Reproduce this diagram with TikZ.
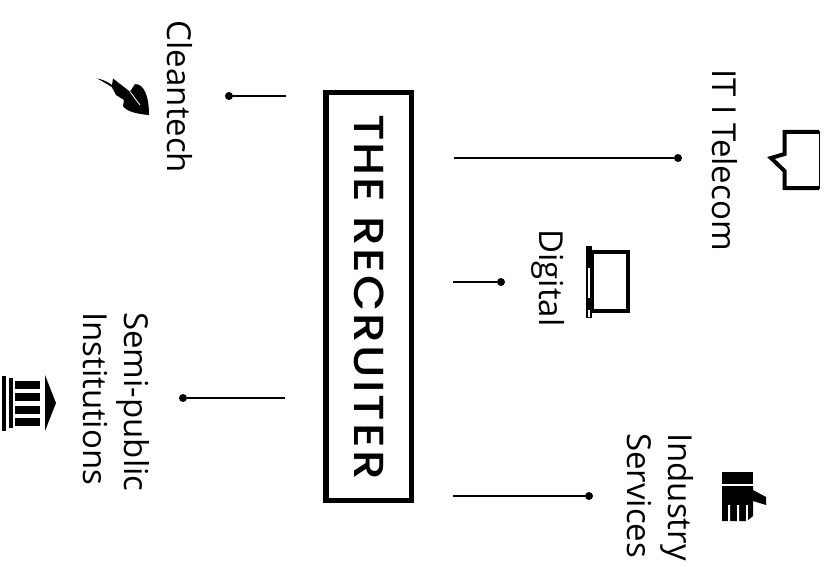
\documentclass[tikz,border=0pt]{standalone}
\usepackage{fontspec}
\setmainfont{Open Sans}
\newfontfamily\titlefont[UprightFont=* Medium,LetterSpace=5,FakeStretch=1.12]{Poppins}
\tikzset{
  lbl/.style={rotate=-90,inner sep=0pt,font=\fontsize{33}{41}\selectfont},
  lblw/.style={lbl,align=left,anchor=west},
  title/.style={rotate=-90,inner sep=0pt,font=\fontsize{42}{42}\titlefont},
  dot/.style={circle,fill=black,inner sep=0pt,minimum size=8pt},
  conn/.style={draw=black,line width=1.6pt},
  frame/.style={draw=black,line width=5.5pt,fill=white,minimum width=85.5pt,minimum height=407.5pt,inner sep=0pt}
}
\begin{document}
\begin{tikzpicture}[x=1pt,y=-1pt]
\useasboundingbox (0,0) rectangle (832,567);
% frame
\node[frame] (box) at (368.5,296.5) {};
\node[title] (rec) at (369,297) {THE RECRUITER};
% labels
\node[lbl] (clean) at (180,97) {Cleantech};
\node[lbl] (it) at (725,160) {IT I Telecom};
\node[lbl] (dig) at (548,278) {Digital};
\node[lblw] (semi) at (116,312) {Semi-public\\Institutions};
\node[lblw] (ind) at (660,433) {Industry\\Services};
% connectors
\node[dot] (d1) at (229,96) {};
\node[dot] (d2) at (678,158) {};
\node[dot] (d3) at (501,282) {};
\node[dot] (d4) at (183,398) {};
\node[dot] (d5) at (589,496) {};
\coordinate (e1) at (286,96);
\coordinate (e2) at (454,158);
\coordinate (e3) at (453,282);
\coordinate (e4) at (285,398);
\coordinate (e5) at (453,496);
\draw[conn] (d1) -- (e1);
\draw[conn] (d2) -- (e2);
\draw[conn] (d3) -- (e3);
\draw[conn] (d4) -- (e4);
\draw[conn] (d5) -- (e5);
% leaf icon
\fill (96.7,78.3) .. controls (103,79.5) and (108,82) .. (112,85)
  -- (113,78.5) -- (130,91.7) -- (135,84)
  .. controls (144,84) and (149,96) .. (149,115)
  .. controls (136,114) and (126,111) .. (123,106)
  -- (124,100) -- (116,95) -- (111.7,87)
  .. controls (107,84) and (102,81) .. (96.7,78.3) -- cycle;
\draw[white,line width=.8pt] (130,91.7) -- (140,105);
% speech bubble icon
\draw[line width=4pt,miter limit=10] (819,132) -- (784.5,132) -- (784.5,154) -- (771,158) -- (784.5,171) -- (784.5,188) -- (819,188);
\draw[line width=.8pt] (819,131) -- (819,189);
% screen icon
\draw[line width=4pt] (592,252) rectangle (628,311);
\fill (586,246) rectangle (592,318);
\fill[white] (588,268) rectangle (590,298);
\fill[white] (588,310) rectangle (590,317);
% hand icon
\fill (722,472) rectangle (753,484);
\fill (722,486) -- (753,486) -- (753,490) -- (766,497) -- (766,505) -- (753,501) -- (753,516) -- (747,521) -- (722,521) -- cycle;
\fill[white] (728,505) rectangle (730,522) (737,505) rectangle (739,522);
\fill[white] (746,505) rectangle (747.5,522);
% institution icon
\fill (2,376) rectangle (6,431);
\fill (9,378) rectangle (13,428);
\fill (15,381) rectangle (40,389);
\fill (15,393) rectangle (40,401);
\fill (15,406) rectangle (40,414);
\fill (15,418) rectangle (40,426);
\fill (45,375) -- (56,403) -- (45,431) -- cycle;
\end{tikzpicture}
\end{document}
